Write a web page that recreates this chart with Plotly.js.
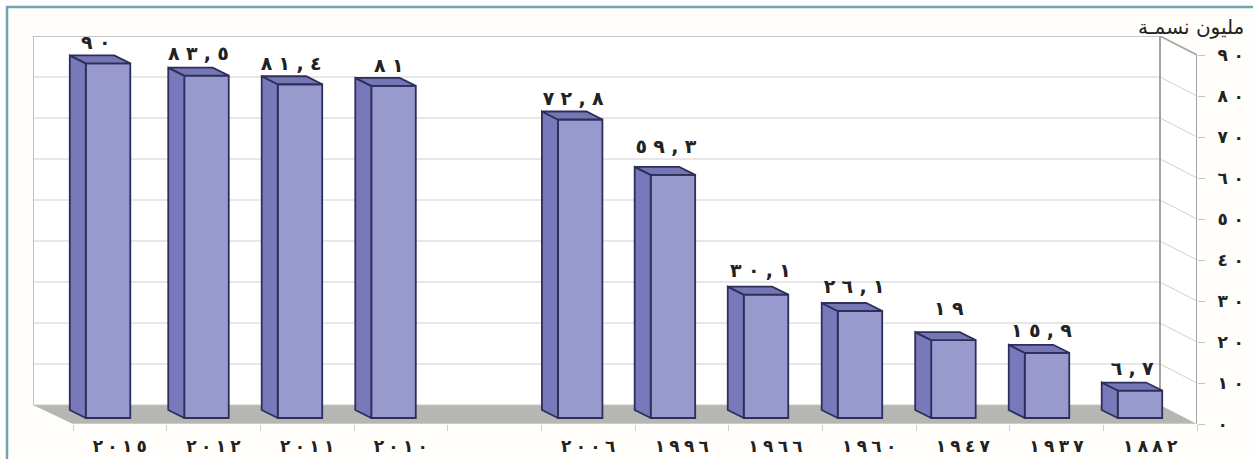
<!DOCTYPE html>
<html lang="ar">
<head>
<meta charset="utf-8">
<script src="https://cdn.plot.ly/plotly-3.0.1.min.js"></script>
<style>
html,body{margin:0;padding:0;background:#fff;}
#chart{width:1253px;height:459px;}
</style>
</head>
<body>
<div id="chart"></div>
<script>
// ---------- data ----------
const categories = ['٢٠١٥','٢٠١٢','٢٠١١','٢٠١٠','','٢٠٠٦','١٩٩٦','١٩٦٦','١٩٦٠','١٩٤٧','١٩٣٧','١٨٨٢'];
// Heights as drawn. The 2015 bar is labelled 90 but drawn to about 86.5 in the source.
const barValues = [86.5,83.5,81.4,81,null,72.8,59.3,30.1,26.1,19,15.9,6.7];
const barLabels = ['٩٠','٨٣,٥','٨١,٤','٨١','','٧٢,٨','٥٩,٣','٣٠,١','٢٦,١','١٩','١٥,٩','٦,٧'];
const yTickValues = [0,10,20,30,40,50,60,70,80,90];
const yTickLabels = ['٠','١٠','٢٠','٣٠','٤٠','٥٠','٦٠','٧٠','٨٠','٩٠'];
const unitLabel = 'مليون نسمـة';

// ---------- geometry / style ----------
const W=1253,H=459;
const plotL=33,plotR=1197,plotT=36,plotB=424,frontL=73;
const pxX=(plotR-frontL)/categories.length;
const pxY=4.1;
const xRange=[-0.5-(frontL-plotL)/pxX,categories.length-0.5];
const yRange=[0,(plotB-plotT)/pxY];
const wallTopValue=90;
const backRightShift=37/pxX, backRise=19/pxY;
const barWidth=44.5/pxX, barDepthX=16/pxX, barDepthY=8/pxY, barBase=6/pxY;
const barShiftPx=[-11.8,-7,-7.2,-7.3,0,-8,-8.9,-9.5,-9.2,-9.4,-9.5,-10.2];
const labelShiftPx=[-24,-15,-16,-12,0,-15,-16,-15,-15,-14,-15,-18];
const labelLiftPx=[11,12,11,11,0,11,19,14,15,22,13,12];
const gray='#a3a3a3',grid='#cfcfcf',outline='#2e2e5a';
const font='"DejaVu Sans", sans-serif';

// Digits are set apart as in the source; the LRM keeps them in reading order around the space.
const spaced=(s,gap)=>Array.from(s).join('\u200e'+gap);
const THICK='\u2004',FOUR='\u2005';

const xs=categories.map((c,i)=>i+barShiftPx[i]/pxX);
const idx=categories.map((c,i)=>i).filter(i=>barValues[i]!==null);
const sideX=[],sideY=[],topX=[],topY=[];
idx.forEach(i=>{
  const l=xs[i]-barWidth/2,r=xs[i]+barWidth/2,t=barBase+barValues[i];
  sideX.push(l,l-barDepthX,l-barDepthX,l,l,null);
  sideY.push(barBase,barBase+barDepthY,t+barDepthY,t,barBase,null);
  topX.push(l,l-barDepthX,r-barDepthX,r,l,null);
  topY.push(t,t+barDepthY,t+barDepthY,t,t,null);
});

const traces=[
 {type:'bar',x:idx.map(i=>xs[i]),y:idx.map(i=>barValues[i]),base:barBase,width:barWidth,
  marker:{color:'#9899cd',line:{color:outline,width:1.8}},hoverinfo:'skip',showlegend:false},
 {type:'scatter',mode:'lines',x:sideX,y:sideY,fill:'toself',fillcolor:'#7879bb',
  line:{color:outline,width:1.8},hoverinfo:'skip',showlegend:false},
 {type:'scatter',mode:'lines',x:topX,y:topY,fill:'toself',fillcolor:'#7576b4',
  line:{color:outline,width:1.8},hoverinfo:'skip',showlegend:false},
 {type:'scatter',mode:'text',
  x:idx.map(i=>i+labelShiftPx[i]/pxX),
  y:idx.map(i=>barBase+barValues[i]+barDepthY+labelLiftPx[i]/pxY),
  text:idx.map(i=>spaced(barLabels[i],THICK)),textposition:'middle center',
  textfont:{family:font,size:19,color:'#222',weight:'bold'},
  hoverinfo:'skip',showlegend:false,cliponaxis:false}
];

const backL=xRange[0],backR=xRange[1]-backRightShift;
const line=(x0,y0,x1,y1,color,width)=>({type:'line',xref:'x',yref:'y',x0,y0,x1,y1,layer:'below',line:{color,width}});
const shapes=[];
const paperX=p=>(p-plotL)/(plotR-plotL), paperY=p=>(plotB-p)/(plotB-plotT);
// page frame
shapes.push({type:'rect',xref:'paper',yref:'paper',x0:paperX(7),x1:paperX(1260),y0:paperY(7),y1:paperY(466),
  layer:'below',fillcolor:'#fffefa',line:{color:'#6fa6ae',width:2.5}});
// white chart box
shapes.push({type:'rect',xref:'x',yref:'y',x0:backL,x1:backR,y0:backRise,y1:wallTopValue+backRise,layer:'below',fillcolor:'#fff',line:{width:0}});
shapes.push({type:'path',xref:'x',yref:'y',layer:'below',fillcolor:'#fff',line:{width:0},
  path:`M${backR},${backRise}L${xRange[1]},0L${xRange[1]},${wallTopValue}L${backR},${wallTopValue+backRise}Z`});
// gridlines on back and side walls
yTickValues.forEach(v=>{
  if(v===0||v===wallTopValue) return;
  shapes.push(line(backL,v+backRise,backR,v+backRise,grid,1));
  shapes.push(line(backR,v+backRise,xRange[1],v,grid,1));
});
// floor
shapes.push({type:'path',xref:'x',yref:'y',layer:'below',fillcolor:'#b6b6b2',line:{width:0},
  path:`M${backL},${backRise}L${backR},${backRise}L${xRange[1]},0L-0.5,0Z`});
// wall edges
shapes.push(line(backL,backRise,backL,wallTopValue+backRise,'#9c9c9c',1.2));
shapes.push(line(backL,wallTopValue+backRise,backR,wallTopValue+backRise,'#8f8f8f',1.2));
shapes.push(line(backL,backRise,backR,backRise,'#c4c4c4',1));
shapes.push(line(backR,backRise,backR,wallTopValue+backRise,gray,2));
shapes.push(line(backR,wallTopValue+backRise,xRange[1],wallTopValue,gray,1.6));
shapes.push(line(xRange[1],0,xRange[1],wallTopValue,gray,2));
shapes.push(line(-0.5,0,xRange[1],0,'#d2d2d2',1.5));

const layout={
  width:W,height:H,
  margin:{l:plotL,r:W-plotR,t:plotT,b:H-plotB,pad:0},
  paper_bgcolor:'#fff',plot_bgcolor:'rgba(0,0,0,0)',
  showlegend:false,bargap:0,
  font:{family:font,color:'#222'},
  xaxis:{type:'linear',range:xRange,showgrid:false,zeroline:false,showline:false,
    tickmode:'array',tickvals:categories.map((c,i)=>i),ticktext:categories.map(c=>spaced(c,FOUR)),ticks:'',tickangle:0,
    ticklabelstandoff:10,tickfont:{family:font,size:17,color:'#222',weight:'bold'},
    minor:{tickmode:'array',tickvals:categories.map((c,i)=>i-0.5).concat([categories.length-0.5]),
      ticks:'outside',ticklen:6,tickwidth:1,tickcolor:'#cfcfcf',showgrid:false}},
  yaxis:{type:'linear',side:'right',range:yRange,showgrid:false,zeroline:false,showline:false,
    tickmode:'array',tickvals:yTickValues,ticktext:yTickLabels.map(c=>spaced(c,THICK)),ticks:'outside',ticklen:7,tickwidth:1,tickcolor:'#c4c4c4',
    ticklabelstandoff:9,tickfont:{family:font,size:17,color:'#222',weight:'bold'}},
  shapes,
  annotations:[{xref:'paper',yref:'paper',x:paperX(1246),y:paperY(27),xanchor:'right',yanchor:'middle',
    text:unitLabel,showarrow:false,font:{family:font,size:20,color:'#222'}}]
};
Plotly.newPlot('chart',traces,layout,{displayModeBar:false,staticPlot:true});
</script>
</body>
</html>
